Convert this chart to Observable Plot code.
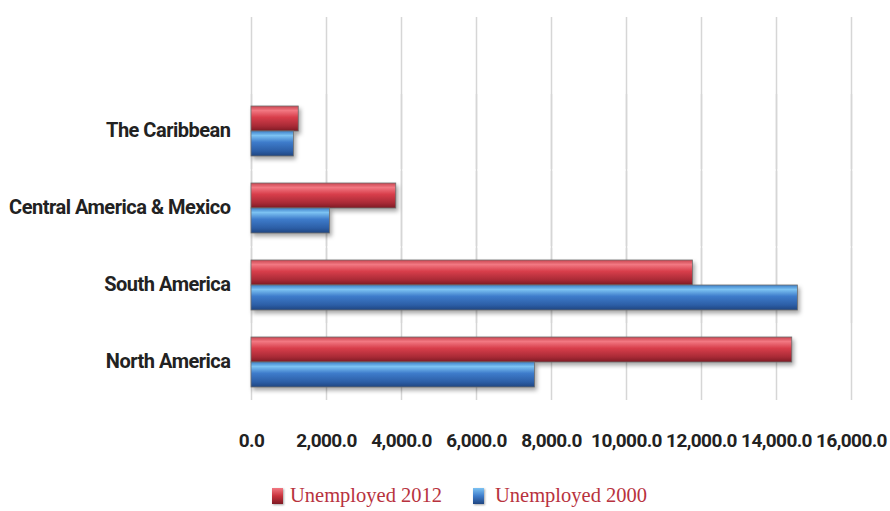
<!DOCTYPE html>
<html>
<head>
<meta charset="utf-8">
<script src="https://cdn.jsdelivr.net/npm/d3@7"></script>
<script src="https://cdn.jsdelivr.net/npm/@observablehq/plot@0.6"></script>
<style>
  html, body { margin: 0; padding: 0; background: #fff; }
  #chart svg { display: block; font-family: Roboto, "Noto Sans", sans-serif; font-weight: bold; color: #222; }
  #chart [aria-label^="x-axis"] text { font-size: 19px; letter-spacing: -0.6px; }
  #chart [aria-label^="fy-axis"] text { font-size: 20px; letter-spacing: -0.5px; }
  #chart g[aria-label="bar"] rect { filter: drop-shadow(2px 3px 2px rgba(0,0,0,0.35)); }
  #legend { position: relative; height: 41px; font-family: "Liberation Serif", "DejaVu Serif", serif; font-size: 20.5px; color: #B8323E; }
  #legend .item { position: absolute; top: 14px; display: flex; align-items: center; }
  #legend .sw { width: 11px; height: 16px; display: inline-block; margin-right: 7px; box-shadow: 1px 1px 2px rgba(0,0,0,0.35); }
</style>
</head>
<body>
<svg width="0" height="0" style="position:absolute">
  <defs>
    <linearGradient id="gRed" x1="0" y1="0" x2="0" y2="1">
      <stop offset="0" stop-color="#C94550"/>
      <stop offset="0.18" stop-color="#F27882"/>
      <stop offset="0.45" stop-color="#D83E4B"/>
      <stop offset="0.8" stop-color="#A82A36"/>
      <stop offset="1" stop-color="#7E1A24"/>
    </linearGradient>
    <linearGradient id="gBlue" x1="0" y1="0" x2="0" y2="1">
      <stop offset="0" stop-color="#3C7FC8"/>
      <stop offset="0.18" stop-color="#7CC2F2"/>
      <stop offset="0.45" stop-color="#3E7CCB"/>
      <stop offset="0.8" stop-color="#2C5EA6"/>
      <stop offset="1" stop-color="#1F4580"/>
    </linearGradient>
  </defs>
</svg>
<div id="chart"></div>
<div id="legend"></div>
<script>
const regions = ["North America", "South America", "Central America & Mexico", "The Caribbean"];
const unemployed2012 = [14420, 11770, 3860, 1260];
const unemployed2000 = [7560, 14570, 2090, 1130];
const seriesNames = ["Unemployed 2012", "Unemployed 2000"];
const xTicks = [0, 2000, 4000, 6000, 8000, 10000, 12000, 14000, 16000];

const rows = [];
regions.forEach((r, i) => {
  rows.push({region: r, series: seriesNames[0], value: unemployed2012[i]});
  rows.push({region: r, series: seriesNames[1], value: unemployed2000[i]});
});

const chart = Plot.plot({
  width: 890,
  height: 470,
  marginLeft: 251,
  marginRight: 39,
  marginTop: 90,
  marginBottom: 69,
  x: {domain: [0, 16000], ticks: xTicks, tickFormat: d3.format(",.1f"), tickSize: 0, tickPadding: 33, label: null},
  fy: {domain: regions.slice().reverse(), padding: 0, tickSize: 0, tickPadding: 21, label: null},
  y: {domain: seriesNames, paddingInner: 0.02, paddingOuter: 0.5, axis: null},
  color: {domain: seriesNames, range: ["url(#gRed)", "url(#gBlue)"]},
  marks: [
    Plot.ruleX(xTicks, {stroke: "#d6d6d6", strokeWidth: 1.5, insetTop: -75}),
    Plot.barX(rows, {x: "value", y: "series", fy: "region", fill: "series", stroke: "#6e6e6e", strokeWidth: 0.8})
  ]
});
document.getElementById("chart").appendChild(chart);

const legend = document.getElementById("legend");
const legendPos = [{left: 272, grad: "linear-gradient(#F27882, #C8323C 50%, #7E1A24)"}, {left: 473, grad: "linear-gradient(#7CC2F2, #3E7CCB 50%, #1F4580)"}];
seriesNames.forEach((s, i) => {
  const item = document.createElement("div");
  item.className = "item";
  item.style.left = legendPos[i].left + "px";
  const sw = document.createElement("span");
  sw.className = "sw";
  sw.style.background = legendPos[i].grad;
  if (i === 1) sw.style.marginRight = "11px";
  const t = document.createElement("span");
  t.textContent = s;
  item.appendChild(sw);
  item.appendChild(t);
  legend.appendChild(item);
});
</script>
</body>
</html>
